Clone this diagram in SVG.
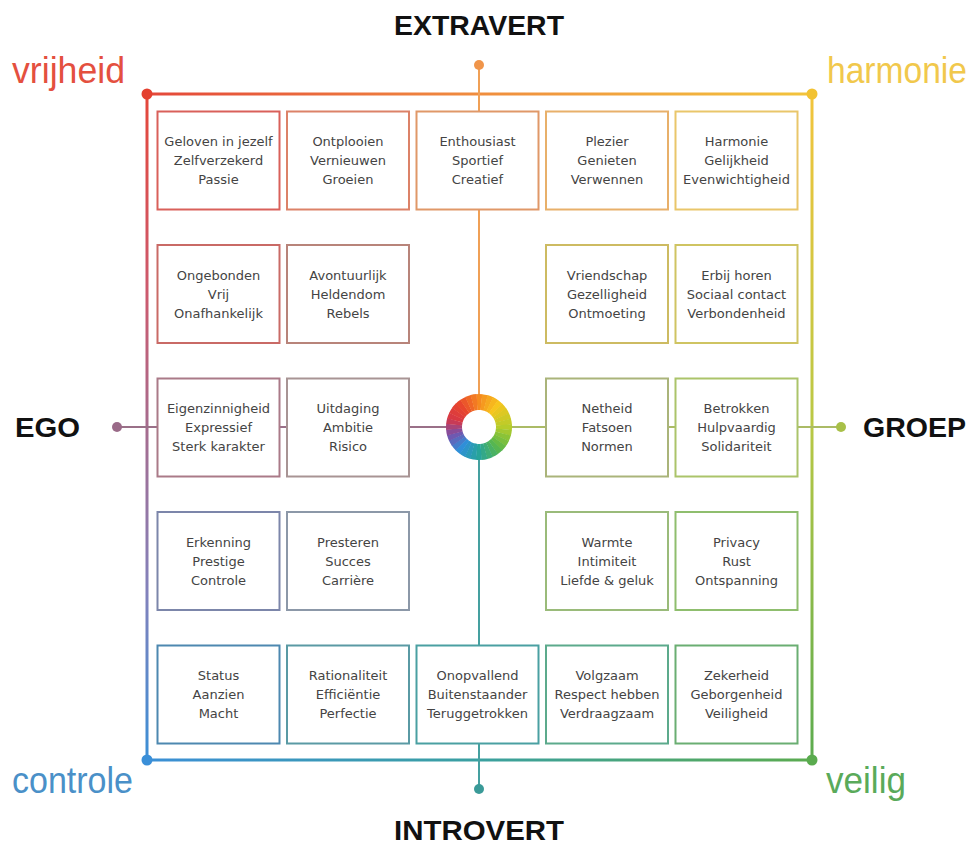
<svg xmlns="http://www.w3.org/2000/svg" width="977" height="847" viewBox="0 0 977 847">
<defs>
<linearGradient id="gTop" gradientUnits="userSpaceOnUse" x1="147" y1="0" x2="812" y2="0"><stop offset="0" stop-color="#e4473a"/><stop offset="0.5" stop-color="#f08d3e"/><stop offset="1" stop-color="#f2c43c"/></linearGradient>
<linearGradient id="gLeft" gradientUnits="userSpaceOnUse" x1="0" y1="94" x2="0" y2="760"><stop offset="0" stop-color="#e4473a"/><stop offset="0.3" stop-color="#cc5a6e"/><stop offset="0.5" stop-color="#a66c8e"/><stop offset="0.75" stop-color="#8282bc"/><stop offset="1" stop-color="#3b8fd6"/></linearGradient>
<linearGradient id="gRight" gradientUnits="userSpaceOnUse" x1="0" y1="94" x2="0" y2="760"><stop offset="0" stop-color="#f2c43c"/><stop offset="0.5" stop-color="#b9c845"/><stop offset="1" stop-color="#5bab4f"/></linearGradient>
<linearGradient id="gBottom" gradientUnits="userSpaceOnUse" x1="147" y1="0" x2="812" y2="0"><stop offset="0" stop-color="#3b8fd6"/><stop offset="0.5" stop-color="#3aa0a0"/><stop offset="1" stop-color="#5bab4f"/></linearGradient>
</defs>
<style>
.frame{fill:none;stroke-width:3;stroke-linecap:round}
.axis{fill:none;stroke-width:2}
.box rect{fill:#ffffff;stroke-width:2}
.box text{font-family:"DejaVu Sans","Liberation Sans",sans-serif;font-size:13px;fill:#444444;text-anchor:middle}
.pole{font-family:"Liberation Sans",Arial,sans-serif;font-weight:bold;font-size:28px;fill:#111111}
.corner{font-family:"Liberation Sans",Arial,sans-serif;font-size:36px}
.seg{fill:none;stroke-width:16;stroke-dasharray:4.8 160}
</style>
<rect x="0" y="0" width="977" height="847" fill="#ffffff"/>

<g id="connectors">
<line class="frame" x1="147" y1="94" x2="812" y2="94" stroke="url(#gTop)"/>
<line class="frame" x1="147" y1="94" x2="147" y2="760" stroke="url(#gLeft)"/>
<line class="frame" x1="812" y1="94" x2="812" y2="760" stroke="url(#gRight)"/>
<line class="frame" x1="147" y1="760" x2="812" y2="760" stroke="url(#gBottom)"/>
<line class="axis" x1="479" y1="65" x2="479" y2="395" stroke="#f0a056"/>
<line class="axis" x1="479" y1="459" x2="479" y2="789" stroke="#45a0a0"/>
<line class="axis" x1="117" y1="427" x2="447" y2="427" stroke="#9a7088"/>
<line class="axis" x1="511" y1="427" x2="841" y2="427" stroke="#abbb66"/>
<circle cx="147" cy="94" r="5.5" fill="#e4402f"/>
<circle cx="812" cy="94" r="5.5" fill="#f2c232"/>
<circle cx="147" cy="760" r="5.5" fill="#3a8fd8"/>
<circle cx="812" cy="760" r="5.5" fill="#5aab4e"/>
<circle cx="479" cy="65" r="5" fill="#f0954a"/>
<circle cx="479" cy="789" r="5" fill="#3a9a98"/>
<circle cx="117" cy="427" r="5" fill="#9a6a88"/>
<circle cx="841" cy="427" r="5" fill="#a8c048"/>
</g>

<g id="labels">
<text class="pole" x="479" y="35" text-anchor="middle" textLength="170" lengthAdjust="spacingAndGlyphs">EXTRAVERT</text>
<text class="pole" x="479" y="840" text-anchor="middle" textLength="170" lengthAdjust="spacingAndGlyphs">INTROVERT</text>
<text class="pole" x="15" y="437" textLength="65" lengthAdjust="spacingAndGlyphs">EGO</text>
<text class="pole" x="863" y="437" textLength="103" lengthAdjust="spacingAndGlyphs">GROEP</text>
<text class="corner" x="12" y="83" fill="#e4503f" textLength="113" lengthAdjust="spacingAndGlyphs">vrijheid</text>
<text class="corner" x="827" y="83" fill="#f1c84c" textLength="140" lengthAdjust="spacingAndGlyphs">harmonie</text>
<text class="corner" x="12" y="793" fill="#4a90c8" textLength="121" lengthAdjust="spacingAndGlyphs">controle</text>
<text class="corner" x="826" y="793" fill="#5aaa5a" textLength="80" lengthAdjust="spacingAndGlyphs">veilig</text>
</g>

<g id="r1c1" class="box"><rect x="157.5" y="111.5" width="122" height="98" stroke="#d9605a"/><text x="218.5" y="146">Geloven in jezelf</text><text x="218.5" y="165">Zelfverzekerd</text><text x="218.5" y="184">Passie</text></g>
<g id="r1c2" class="box"><rect x="287" y="111.5" width="122" height="98" stroke="#dc8268"/><text x="348" y="146">Ontplooien</text><text x="348" y="165">Vernieuwen</text><text x="348" y="184">Groeien</text></g>
<g id="r1c3" class="box"><rect x="416.5" y="111.5" width="122" height="98" stroke="#e09868"/><text x="477.5" y="146">Enthousiast</text><text x="477.5" y="165">Sportief</text><text x="477.5" y="184">Creatief</text></g>
<g id="r1c4" class="box"><rect x="546" y="111.5" width="122" height="98" stroke="#e8b06a"/><text x="607" y="146">Plezier</text><text x="607" y="165">Genieten</text><text x="607" y="184">Verwennen</text></g>
<g id="r1c5" class="box"><rect x="675.5" y="111.5" width="122" height="98" stroke="#e9c66a"/><text x="736.5" y="146">Harmonie</text><text x="736.5" y="165">Gelijkheid</text><text x="736.5" y="184">Evenwichtigheid</text></g>

<g id="r2c1" class="box"><rect x="157.5" y="245" width="122" height="98" stroke="#c96a66"/><text x="218.5" y="279.5">Ongebonden</text><text x="218.5" y="298.5">Vrij</text><text x="218.5" y="317.5">Onafhankelijk</text></g>
<g id="r2c2" class="box"><rect x="287" y="245" width="122" height="98" stroke="#b8847a"/><text x="348" y="279.5">Avontuurlijk</text><text x="348" y="298.5">Heldendom</text><text x="348" y="317.5">Rebels</text></g>
<g id="r2c4" class="box"><rect x="546" y="245" width="122" height="98" stroke="#cdbb62"/><text x="607" y="279.5">Vriendschap</text><text x="607" y="298.5">Gezelligheid</text><text x="607" y="317.5">Ontmoeting</text></g>
<g id="r2c5" class="box"><rect x="675.5" y="245" width="122" height="98" stroke="#cfc462"/><text x="736.5" y="279.5">Erbij horen</text><text x="736.5" y="298.5">Sociaal contact</text><text x="736.5" y="317.5">Verbondenheid</text></g>

<g id="r3c1" class="box"><rect x="157.5" y="378.5" width="122" height="98" stroke="#aa7a88"/><text x="218.5" y="413">Eigenzinnigheid</text><text x="218.5" y="432">Expressief</text><text x="218.5" y="451">Sterk karakter</text></g>
<g id="r3c2" class="box"><rect x="287" y="378.5" width="122" height="98" stroke="#a89494"/><text x="348" y="413">Uitdaging</text><text x="348" y="432">Ambitie</text><text x="348" y="451">Risico</text></g>
<g id="r3c4" class="box"><rect x="546" y="378.5" width="122" height="98" stroke="#aab47a"/><text x="607" y="413">Netheid</text><text x="607" y="432">Fatsoen</text><text x="607" y="451">Normen</text></g>
<g id="r3c5" class="box"><rect x="675.5" y="378.5" width="122" height="98" stroke="#abc46a"/><text x="736.5" y="413">Betrokken</text><text x="736.5" y="432">Hulpvaardig</text><text x="736.5" y="451">Solidariteit</text></g>

<g id="r4c1" class="box"><rect x="157.5" y="512" width="122" height="98" stroke="#7c86aa"/><text x="218.5" y="546.5">Erkenning</text><text x="218.5" y="565.5">Prestige</text><text x="218.5" y="584.5">Controle</text></g>
<g id="r4c2" class="box"><rect x="287" y="512" width="122" height="98" stroke="#8c98a8"/><text x="348" y="546.5">Presteren</text><text x="348" y="565.5">Succes</text><text x="348" y="584.5">Carrière</text></g>
<g id="r4c4" class="box"><rect x="546" y="512" width="122" height="98" stroke="#9abb7a"/><text x="607" y="546.5">Warmte</text><text x="607" y="565.5">Intimiteit</text><text x="607" y="584.5">Liefde &amp; geluk</text></g>
<g id="r4c5" class="box"><rect x="675.5" y="512" width="122" height="98" stroke="#8fbe6e"/><text x="736.5" y="546.5">Privacy</text><text x="736.5" y="565.5">Rust</text><text x="736.5" y="584.5">Ontspanning</text></g>

<g id="r5c1" class="box"><rect x="157.5" y="645.5" width="122" height="98" stroke="#4d88b0"/><text x="218.5" y="680">Status</text><text x="218.5" y="699">Aanzien</text><text x="218.5" y="718">Macht</text></g>
<g id="r5c2" class="box"><rect x="287" y="645.5" width="122" height="98" stroke="#5a9aa4"/><text x="348" y="680">Rationaliteit</text><text x="348" y="699">Efficiëntie</text><text x="348" y="718">Perfectie</text></g>
<g id="r5c3" class="box"><rect x="416.5" y="645.5" width="122" height="98" stroke="#4aa0a2"/><text x="477.5" y="680">Onopvallend</text><text x="477.5" y="699">Buitenstaander</text><text x="477.5" y="718">Teruggetrokken</text></g>
<g id="r5c4" class="box"><rect x="546" y="645.5" width="122" height="98" stroke="#5caa8c"/><text x="607" y="680">Volgzaam</text><text x="607" y="699">Respect hebben</text><text x="607" y="718">Verdraagzaam</text></g>
<g id="r5c5" class="box"><rect x="675.5" y="645.5" width="122" height="98" stroke="#6aae72"/><text x="736.5" y="680">Zekerheid</text><text x="736.5" y="699">Geborgenheid</text><text x="736.5" y="718">Veiligheid</text></g>

<g id="center-ring">
<circle class="seg" cx="479" cy="427" r="25" stroke="#f58a1f" transform="rotate(-95 479 427)"/>
<circle class="seg" cx="479" cy="427" r="25" stroke="#f6991f" transform="rotate(-85 479 427)"/>
<circle class="seg" cx="479" cy="427" r="25" stroke="#f6a81f" transform="rotate(-75 479 427)"/>
<circle class="seg" cx="479" cy="427" r="25" stroke="#f7b61e" transform="rotate(-65 479 427)"/>
<circle class="seg" cx="479" cy="427" r="25" stroke="#f7c51e" transform="rotate(-55 479 427)"/>
<circle class="seg" cx="479" cy="427" r="25" stroke="#eac620" transform="rotate(-45 479 427)"/>
<circle class="seg" cx="479" cy="427" r="25" stroke="#ddc823" transform="rotate(-35 479 427)"/>
<circle class="seg" cx="479" cy="427" r="25" stroke="#d0c925" transform="rotate(-25 479 427)"/>
<circle class="seg" cx="479" cy="427" r="25" stroke="#c3cb28" transform="rotate(-15 479 427)"/>
<circle class="seg" cx="479" cy="427" r="25" stroke="#b6cc2a" transform="rotate(-5 479 427)"/>
<circle class="seg" cx="479" cy="427" r="25" stroke="#a2c831" transform="rotate(5 479 427)"/>
<circle class="seg" cx="479" cy="427" r="25" stroke="#8ac337" transform="rotate(15 479 427)"/>
<circle class="seg" cx="479" cy="427" r="25" stroke="#7abf3e" transform="rotate(25 479 427)"/>
<circle class="seg" cx="479" cy="427" r="25" stroke="#66ba45" transform="rotate(35 479 427)"/>
<circle class="seg" cx="479" cy="427" r="25" stroke="#56b651" transform="rotate(45 479 427)"/>
<circle class="seg" cx="479" cy="427" r="25" stroke="#4ab163" transform="rotate(55 479 427)"/>
<circle class="seg" cx="479" cy="427" r="25" stroke="#3fad76" transform="rotate(65 479 427)"/>
<circle class="seg" cx="479" cy="427" r="25" stroke="#33a888" transform="rotate(75 479 427)"/>
<circle class="seg" cx="479" cy="427" r="25" stroke="#27a49a" transform="rotate(85 479 427)"/>
<circle class="seg" cx="479" cy="427" r="25" stroke="#299faa" transform="rotate(95 479 427)"/>
<circle class="seg" cx="479" cy="427" r="25" stroke="#2b9ab9" transform="rotate(105 479 427)"/>
<circle class="seg" cx="479" cy="427" r="25" stroke="#2d94c9" transform="rotate(115 479 427)"/>
<circle class="seg" cx="479" cy="427" r="25" stroke="#2f8fd8" transform="rotate(125 479 427)"/>
<circle class="seg" cx="479" cy="427" r="25" stroke="#447dcb" transform="rotate(135 479 427)"/>
<circle class="seg" cx="479" cy="427" r="25" stroke="#596bbe" transform="rotate(145 479 427)"/>
<circle class="seg" cx="479" cy="427" r="25" stroke="#6e59b1" transform="rotate(155 479 427)"/>
<circle class="seg" cx="479" cy="427" r="25" stroke="#884c99" transform="rotate(165 479 427)"/>
<circle class="seg" cx="479" cy="427" r="25" stroke="#a84478" transform="rotate(175 479 427)"/>
<circle class="seg" cx="479" cy="427" r="25" stroke="#c73b57" transform="rotate(185 479 427)"/>
<circle class="seg" cx="479" cy="427" r="25" stroke="#d93942" transform="rotate(195 479 427)"/>
<circle class="seg" cx="479" cy="427" r="25" stroke="#de3d3b" transform="rotate(205 479 427)"/>
<circle class="seg" cx="479" cy="427" r="25" stroke="#e34234" transform="rotate(215 479 427)"/>
<circle class="seg" cx="479" cy="427" r="25" stroke="#e8462d" transform="rotate(225 479 427)"/>
<circle class="seg" cx="479" cy="427" r="25" stroke="#eb572a" transform="rotate(235 479 427)"/>
<circle class="seg" cx="479" cy="427" r="25" stroke="#ef6826" transform="rotate(245 479 427)"/>
<circle class="seg" cx="479" cy="427" r="25" stroke="#f27923" transform="rotate(255 479 427)"/>
</g>
</svg>
